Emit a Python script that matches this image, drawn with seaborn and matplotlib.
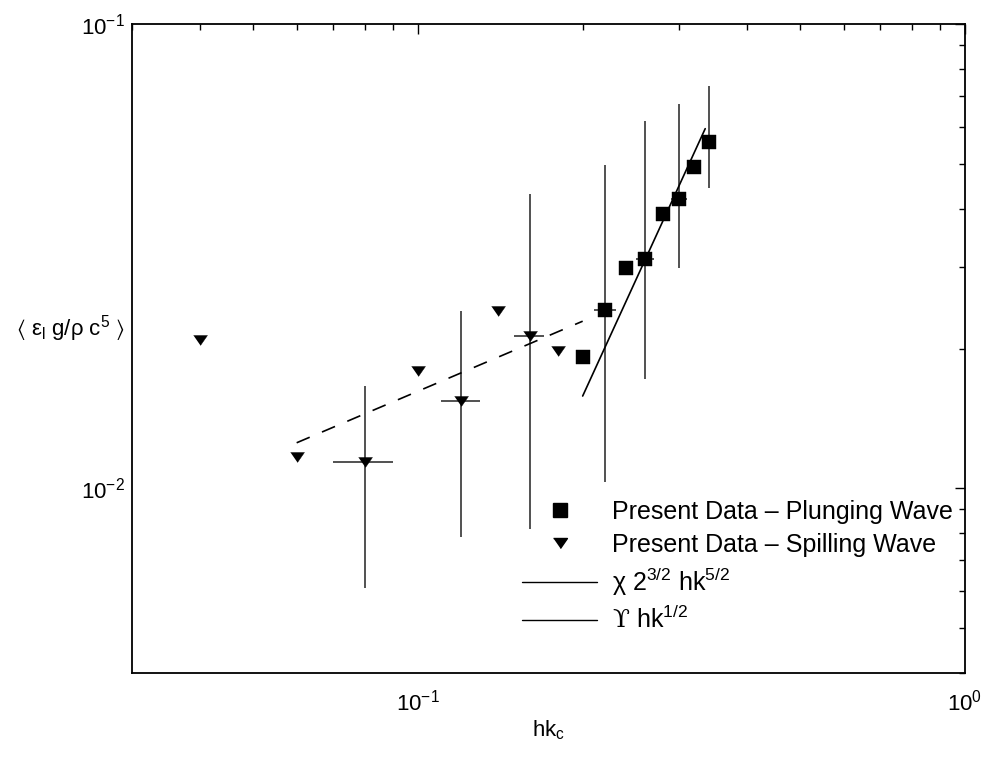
import numpy as np
import pandas as pd
import matplotlib
matplotlib.use("Agg")
import matplotlib.pyplot as plt
import seaborn as sns
from matplotlib.lines import Line2D
from matplotlib.ticker import LogLocator, NullFormatter

# ---------------- data ----------------
spill_hk = [0.04, 0.06, 0.08, 0.10, 0.12, 0.14, 0.16, 0.18]
spill_eps = [0.0209, 0.0117, 0.0114, 0.0179, 0.0154, 0.0241, 0.0213, 0.0198]

plunge_hk = [0.20, 0.22, 0.24, 0.26, 0.28, 0.30, 0.32, 0.34]
plunge_eps = [0.0192, 0.0242, 0.0298, 0.0312, 0.0389, 0.0419, 0.0493, 0.0557]

# error bars (x, y, lower y, upper y, x half-width)
spill_err_hk = [0.08, 0.12, 0.16]
spill_err_eps = [0.0114, 0.0154, 0.0213]
spill_err_lo = [0.00609, 0.00787, 0.00817]
spill_err_hi = [0.0166, 0.0241, 0.0431]
spill_err_dx = [0.01, 0.01, 0.01]

plunge_err_hk = [0.22, 0.26, 0.30, 0.34]
plunge_err_eps = [0.0242, 0.0312, 0.0419, 0.0557]
plunge_err_lo = [0.0103, 0.01717, 0.0298, 0.0444]
plunge_err_hi = [0.0496, 0.0618, 0.0674, 0.0735]
plunge_err_dx = [0.01, 0.01, 0.01, 0.01]

# fitted lines (end points)
fit_plunge_hk = [0.20, 0.335]
fit_plunge_eps = [0.0158, 0.0595]
fit_spill_hk = [0.06, 0.20]
fit_spill_eps = [0.01253, 0.0229]

legend_labels = [
    "Present Data \u2013 Plunging Wave",
    "Present Data \u2013 Spilling Wave",
    "\u03c7 2$^{3/2}$ hk$^{5/2}$",
    "$\\mathcal{\u03d2}$ hk$^{1/2}$",
]

# ---------------- style ----------------
sns.set_style("white")
plt.rcParams["font.family"] = ["Liberation Sans", "DejaVu Sans"]
plt.rcParams["mathtext.fontset"] = "custom"
plt.rcParams["mathtext.rm"] = "Liberation Sans"
plt.rcParams["mathtext.it"] = "Liberation Sans:italic"
plt.rcParams["mathtext.bf"] = "Liberation Sans:bold"
plt.rcParams["mathtext.cal"] = "DejaVu Serif"
plt.rcParams["mathtext.fallback"] = "stixsans"
for k in ["text.color", "axes.labelcolor", "xtick.color", "ytick.color"]:
    plt.rcParams[k] = "black"

fig = plt.figure(figsize=(9.86, 7.61), dpi=100)
W, H = 986, 761
ax = fig.add_axes([132 / W, (H - 673) / H, (965 - 132) / W, (673 - 24) / H])
ax.set_xscale("log")
ax.set_yscale("log")

tri = [(-1, 0.72), (1, 0.72), (0, -0.72)]

# error bars
ax.errorbar(spill_err_hk, spill_err_eps,
            yerr=[np.array(spill_err_eps) - np.array(spill_err_lo),
                  np.array(spill_err_hi) - np.array(spill_err_eps)],
            xerr=spill_err_dx, fmt="none", ecolor="#222222", elinewidth=1.1,
            capsize=0, zorder=2)
ax.errorbar(plunge_err_hk, plunge_err_eps,
            yerr=[np.array(plunge_err_eps) - np.array(plunge_err_lo),
                  np.array(plunge_err_hi) - np.array(plunge_err_eps)],
            xerr=plunge_err_dx, fmt="none", ecolor="#222222", elinewidth=1.1,
            capsize=0, zorder=2)

# fit lines
sns.lineplot(x=fit_plunge_hk, y=fit_plunge_eps, ax=ax, color="black",
             linewidth=1.2, zorder=3)
sns.lineplot(x=fit_spill_hk, y=fit_spill_eps, ax=ax, color="black",
             linewidth=1.2, zorder=3)
ax.lines[-1].set_linestyle((0, (8.5, 8)))

# markers
df_spill = pd.DataFrame({"hk": spill_hk, "eps": spill_eps})
df_plunge = pd.DataFrame({"hk": plunge_hk, "eps": plunge_eps})
sns.scatterplot(data=df_spill, x="hk", y="eps", ax=ax, marker=tri, s=100,
                color="black", edgecolor="black", linewidth=0.3, zorder=4)
sns.scatterplot(data=df_plunge, x="hk", y="eps", ax=ax, marker="s", s=88,
                color="black", edgecolor="black", linewidth=0.3, zorder=4)

ax.set_xlim(0.03, 1)
ax.set_ylim(0.004, 0.1)

ax.xaxis.set_major_locator(LogLocator(base=10, numticks=10))
ax.xaxis.set_minor_locator(LogLocator(base=10, subs=np.arange(2, 10), numticks=20))
ax.yaxis.set_major_locator(LogLocator(base=10, numticks=10))
ax.yaxis.set_minor_locator(LogLocator(base=10, subs=np.arange(2, 10), numticks=20))
ax.xaxis.set_minor_formatter(NullFormatter())
ax.yaxis.set_minor_formatter(NullFormatter())

ax.tick_params(which="both", direction="in", top=True, right=True,
               width=1.0, color="black", labelsize=16)
ax.tick_params(which="major", length=7)
ax.tick_params(which="minor", length=4)
ax.tick_params(axis="x", which="major", pad=12)
ax.tick_params(axis="y", which="major", pad=5)
for sp in ax.spines.values():
    sp.set_linewidth(1.3)
    sp.set_color("black")

ax.set_xlabel("hk$_\\mathrm{c}$", fontsize=16, labelpad=2)
ax.set_ylabel("$\\langle$ ε$_\\mathrm{l}$ g/ρ c$^5$ $\\rangle$", fontsize=16,
              rotation=0, ha="center", va="center")
ax.yaxis.set_label_coords(-0.0744, 0.53)

handles = [
    Line2D([], [], color="black", marker="s", linestyle="none", markersize=9.4),
    Line2D([], [], color="black", marker=tri, linestyle="none", markersize=10),
    Line2D([], [], color="black", linewidth=1.0),
    Line2D([], [], color="black", linewidth=1.0),
]
leg = ax.legend(handles, legend_labels, loc="upper left",
                bbox_to_anchor=(522 / W, 1 - 500 / H),
                bbox_transform=fig.transFigure, frameon=False, fontsize=18,
                handlelength=3.0, handletextpad=0.62, borderpad=0,
                borderaxespad=0, labelspacing=0.35)

fig.savefig("out.png", dpi=100)
